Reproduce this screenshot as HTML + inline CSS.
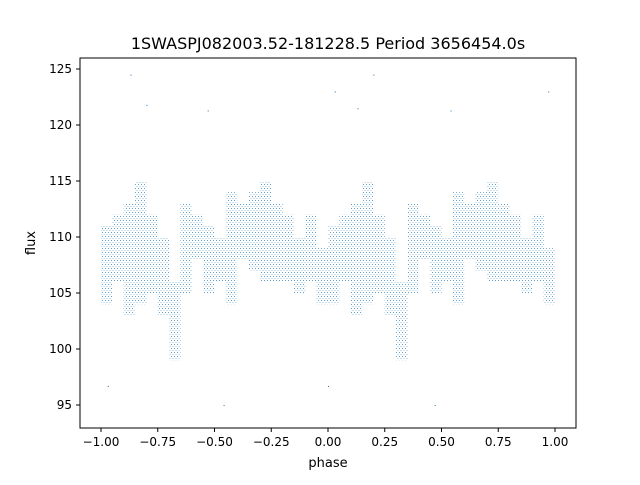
<!DOCTYPE html>
<html><head><meta charset="utf-8"><style>
body{margin:0;background:#fff;font-family:"Liberation Sans","DejaVu Sans",sans-serif}
svg text{font-family:"DejaVu Sans","Liberation Sans",sans-serif;fill:#000}
</style></head><body>
<svg id="chart" width="640" height="480">
<defs>
<pattern id="dots" width="3" height="4" patternUnits="userSpaceOnUse">
<rect x="0" y="0" width="1" height="1" fill="#1f77b4" opacity="0.7"/>
<rect x="1.5" y="2" width="1" height="1" fill="#1f77b4" opacity="0.45"/>
</pattern>
</defs>
<rect x="0" y="0" width="640" height="480" fill="#fff"/>
<text x="328" y="49" font-size="16" text-anchor="middle">1SWASPJ082003.52-181228.5 Period 3656454.0s</text>
<g id="marks"></g>
<g id="axes"></g>
<rect x="80" y="58" width="496" height="370" fill="none" stroke="#000" stroke-width="1"/>
<text x="328" y="467" font-size="13" text-anchor="middle">phase</text>
<text x="35" y="243" font-size="13" text-anchor="middle" transform="rotate(-90 35 243)">flux</text>
</svg>
<script>
const binStart=[0.00,0.05,0.10,0.15,0.20,0.25,0.30,0.35,0.40,0.45,0.50,0.55,0.60,0.65,0.70,0.75,0.80,0.85,0.90,0.95];
const binLow=[104,106,103,104,105,103,99,105,108,105,106,104,108,107,106,106,106,105,106,104];
const binHigh=[111,112,113,115,112,110,106,113,112,111,110,114,113,114,115,113,112,110,112,109];
const outPhase=[-0.87,-0.8,-0.53,-0.46,0.03,0.13,0.2,0.47,0.54,0.97,-0.97,0.0];
const outFlux=[124.5,121.8,121.3,95,123,121.5,124.5,95,121.3,123,96.7,96.7];
const xTicks=[-1,-0.75,-0.5,-0.25,0,0.25,0.5,0.75,1];
const xTickLabels=["−1.00","−0.75","−0.50","−0.25","0.00","0.25","0.50","0.75","1.00"];
const yTicks=[95,100,105,110,115,120,125];
const X=p=>328+p*227, Y=f=>405-(f-95)*11.2;
const NS="http://www.w3.org/2000/svg";
const marks=document.getElementById('marks'), axes=document.getElementById('axes');
for(const off of [-1,0]){
  binStart.forEach((b,i)=>{
    const r=document.createElementNS(NS,'rect');
    
    
    r.setAttribute('x',X(b+off));r.setAttribute('width',X(0.05)-X(0));
    r.setAttribute('y',Y(binHigh[i]));r.setAttribute('height',Y(binLow[i])-Y(binHigh[i]));
    r.setAttribute('fill','url(#dots)');
    marks.appendChild(r);
  });
}
outPhase.forEach((p,i)=>{
  const c=document.createElementNS(NS,'rect');
  
  
  c.setAttribute('x',X(p));c.setAttribute('y',Y(outFlux[i]));c.setAttribute('width',1);c.setAttribute('height',1);
  c.setAttribute('fill','#1f77b4');marks.appendChild(c);
});
xTicks.forEach((t,i)=>{
  const l=document.createElementNS(NS,'line');
  
  
  l.setAttribute('x1',X(t));l.setAttribute('x2',X(t));l.setAttribute('y1',428);l.setAttribute('y2',432);l.setAttribute('stroke','#000');
  axes.appendChild(l);
  const tx=document.createElementNS(NS,'text');
  
  
  tx.setAttribute('x',X(t));tx.setAttribute('y',446);tx.setAttribute('font-size','12');tx.setAttribute('text-anchor','middle');
  tx.textContent=xTickLabels[i];axes.appendChild(tx);
});
yTicks.forEach(t=>{
  const l=document.createElementNS(NS,'line');
  
  
  l.setAttribute('x1',76);l.setAttribute('x2',80);l.setAttribute('y1',Y(t));l.setAttribute('y2',Y(t));l.setAttribute('stroke','#000');
  axes.appendChild(l);
  const tx=document.createElementNS(NS,'text');
  
  
  tx.setAttribute('x',72);tx.setAttribute('y',Y(t)+4);tx.setAttribute('font-size','12');tx.setAttribute('text-anchor','end');
  tx.textContent=t;axes.appendChild(tx);
});
</script>
</body></html>
